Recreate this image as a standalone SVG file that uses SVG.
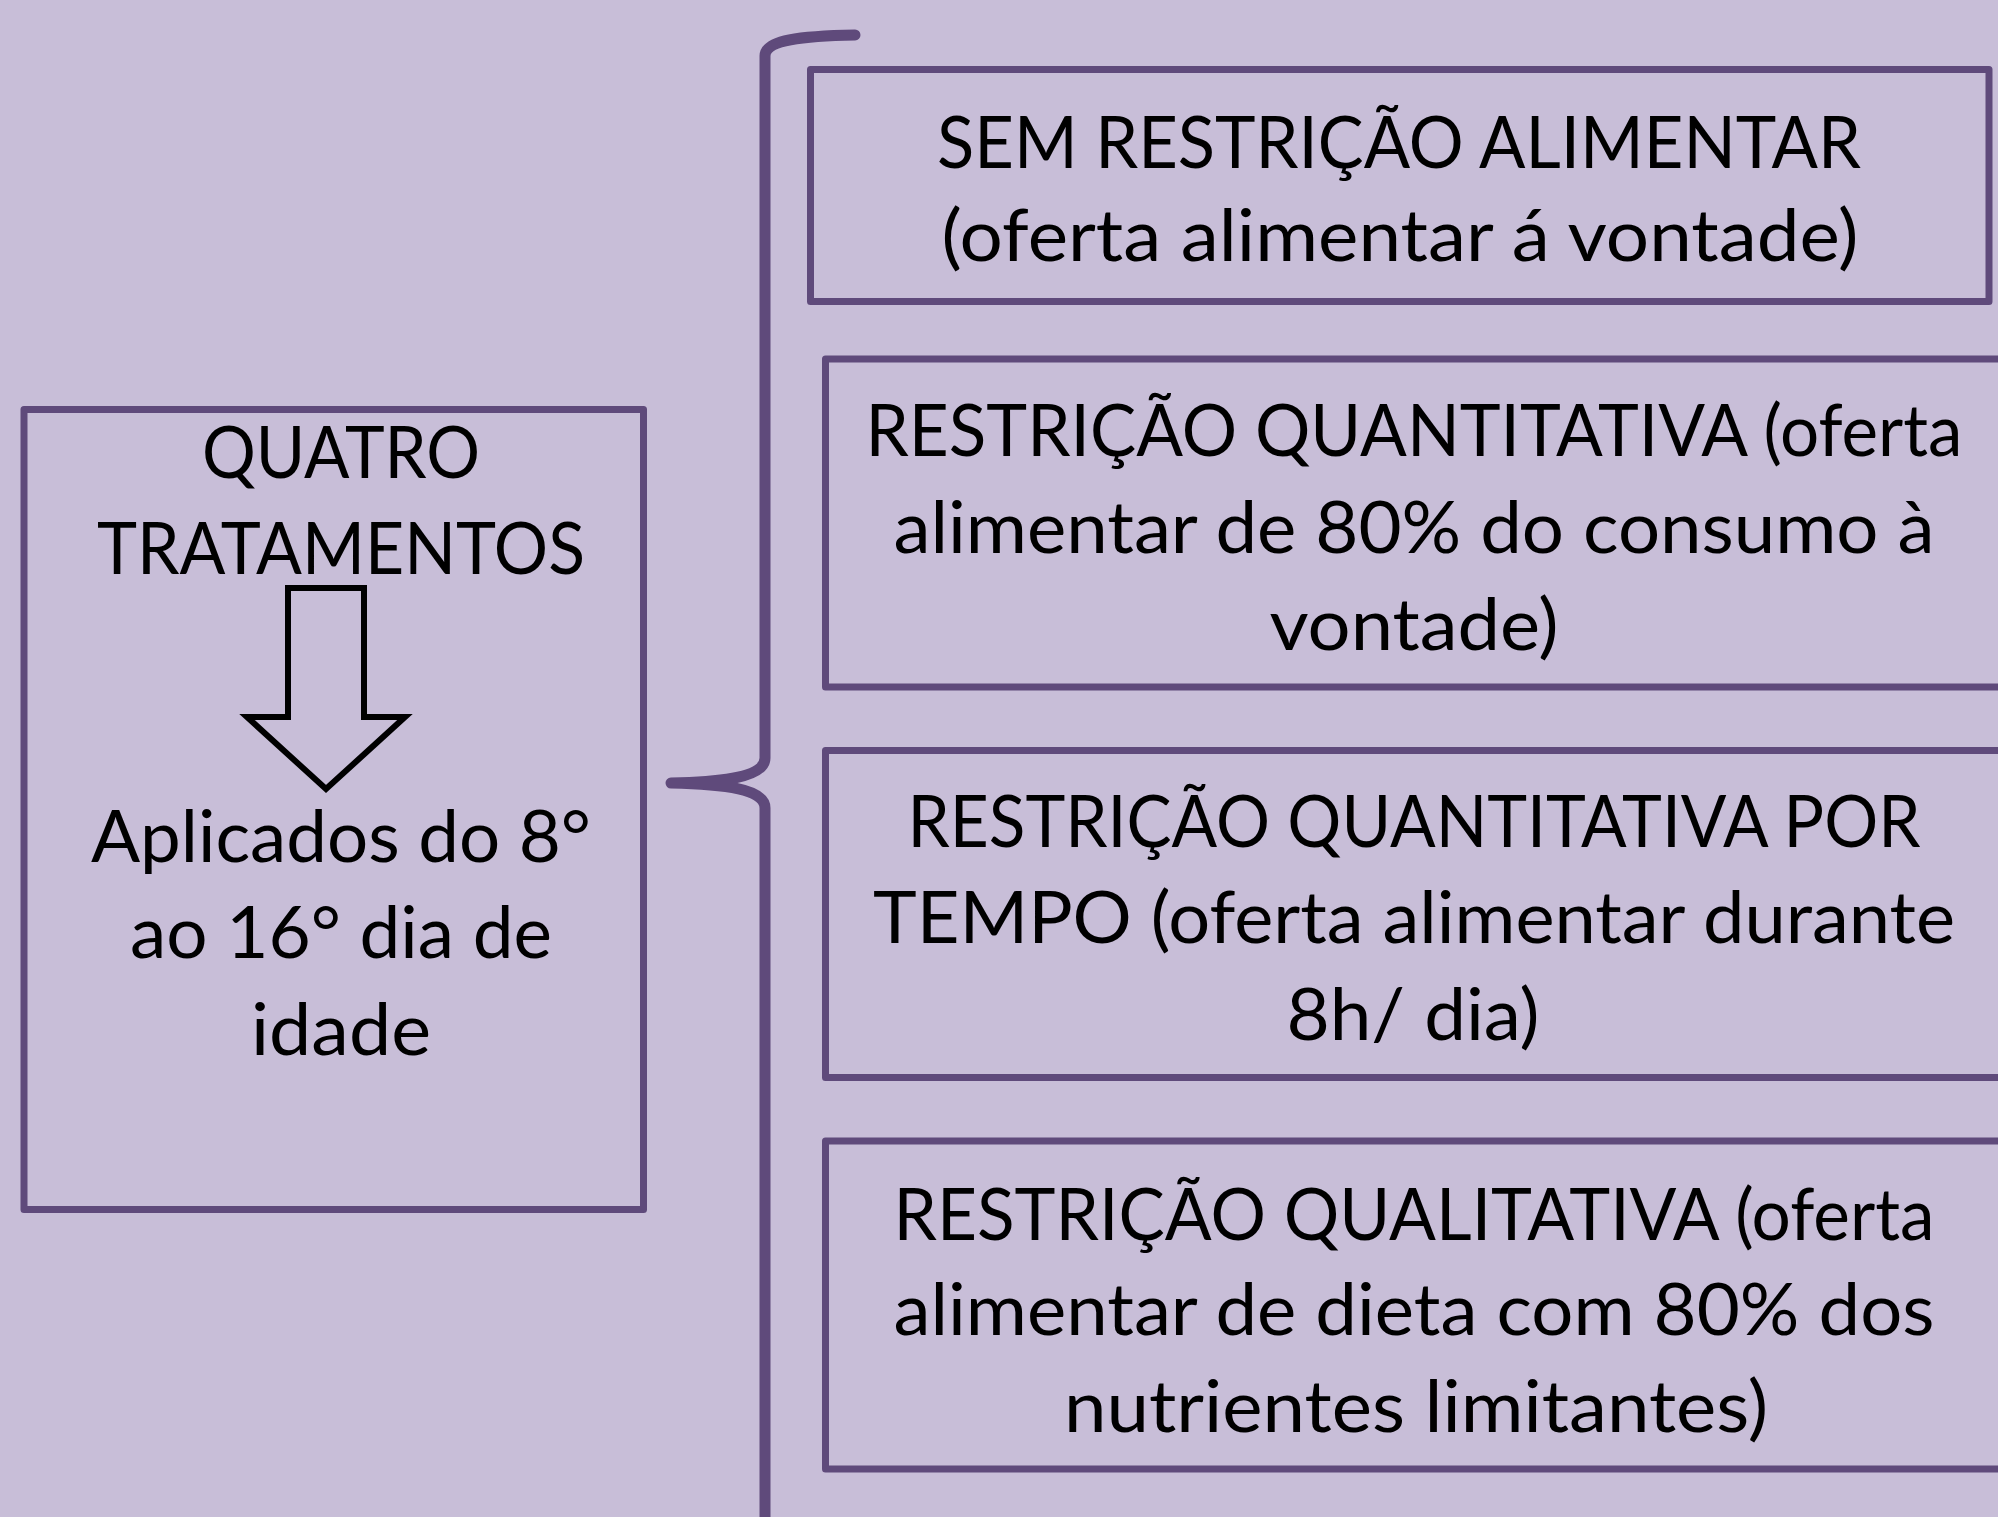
<svg xmlns="http://www.w3.org/2000/svg" width="1998" height="1517" viewBox="0 0 1998 1517">
<style>
.box{fill:none;stroke:#5F4A7B;stroke-width:7;stroke-linejoin:round}
.brace{fill:none;stroke:#5F4A7B;stroke-width:11;stroke-linecap:round;stroke-linejoin:round}
.t{font-family:Lato,"Open Sans","Liberation Sans",sans-serif;font-size:72px;fill:#000;text-anchor:middle}
.arrow{fill:none;stroke:#000;stroke-width:6;stroke-linejoin:miter}
</style>
<rect width="1998" height="1517" fill="#C8BED8"/>
<g id="connectors">
<path class="brace" d="M855,35 C800,36 765,40 765,56 L765,758 C765,778 720,782 671,783 C720,784 765,788 765,808 L765,1530"/>
</g>
<g id="node-tratamentos">
<rect class="box" x="24" y="409.5" width="619.5" height="800"/>
<text class="t" x="341" y="478" textLength="278" lengthAdjust="spacingAndGlyphs">QUATRO</text>
<text class="t" x="341" y="574" textLength="488" lengthAdjust="spacingAndGlyphs">TRATAMENTOS</text>
<polygon class="arrow" points="288,588 364,588 364,717 405,717 326,789 247,717 288,717"/>
<text class="t" x="341" y="862" textLength="500" lengthAdjust="spacingAndGlyphs">Aplicados do 8°</text>
<text class="t" x="341" y="958" textLength="422" lengthAdjust="spacingAndGlyphs">ao 16° dia de</text>
<text class="t" x="341" y="1055" textLength="180" lengthAdjust="spacingAndGlyphs">idade</text>
</g>
<g id="node-sem-restricao">
<rect class="box" x="810.5" y="69.5" width="1178.5" height="232"/>
<text class="t" x="1399" y="168" textLength="924" lengthAdjust="spacingAndGlyphs">SEM RESTRIÇÃO ALIMENTAR</text>
<text class="t" x="1400" y="261" textLength="917" lengthAdjust="spacingAndGlyphs">(oferta alimentar á vontade)</text>
</g>
<g id="node-quantitativa">
<path class="box" d="M1998,359 H825.5 V687 H1998"/>
<text class="t" x="1414" y="456" textLength="1097" lengthAdjust="spacingAndGlyphs">RESTRIÇÃO QUANTITATIVA (oferta</text>
<text class="t" x="1414" y="553" textLength="1041" lengthAdjust="spacingAndGlyphs">alimentar de 80% do consumo à</text>
<text class="t" x="1414" y="650" textLength="289" lengthAdjust="spacingAndGlyphs">vontade)</text>
</g>
<g id="node-tempo">
<path class="box" d="M1998,750.5 H825.5 V1077.5 H1998"/>
<text class="t" x="1414" y="847" textLength="1013" lengthAdjust="spacingAndGlyphs">RESTRIÇÃO QUANTITATIVA POR</text>
<text class="t" x="1414" y="943" textLength="1082" lengthAdjust="spacingAndGlyphs">TEMPO (oferta alimentar durante</text>
<text class="t" x="1413" y="1040" textLength="253" lengthAdjust="spacingAndGlyphs">8h/ dia)</text>
</g>
<g id="node-qualitativa">
<path class="box" d="M1998,1141 H825.5 V1469 H1998"/>
<text class="t" x="1414" y="1240" textLength="1041" lengthAdjust="spacingAndGlyphs">RESTRIÇÃO QUALITATIVA (oferta</text>
<text class="t" x="1414" y="1335" textLength="1041" lengthAdjust="spacingAndGlyphs">alimentar de dieta com 80% dos</text>
<text class="t" x="1416" y="1432" textLength="704" lengthAdjust="spacingAndGlyphs">nutrientes limitantes)</text>
</g>
</svg>
